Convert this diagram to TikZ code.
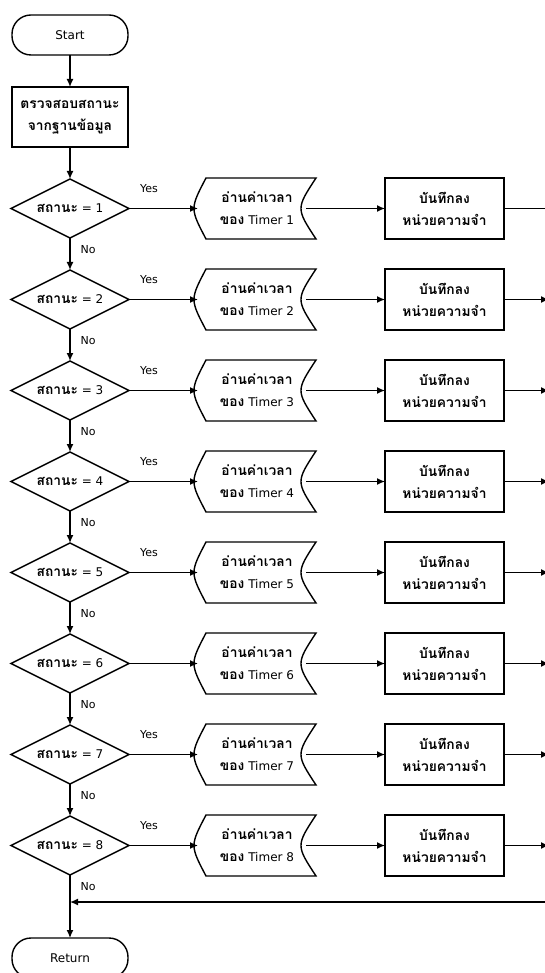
\documentclass[tikz,border=0pt]{standalone}
\usepackage{fontspec}
\setmainfont{DejaVu Sans}
\newfontfamily\thaifont[Script=Thai,Scale=1.15]{Loma}
\newcommand\thtxt[1]{{\thaifont\bfseries #1}}
\usepackage{tikz}
\usetikzlibrary{arrows.meta,positioning,shapes.geometric,calc}

\begin{document}
\begin{tikzpicture}[x=1pt, y={(0,-1pt)}, node distance=32pt and 69pt, every node/.style={outer sep=0pt, font=\fontsize{12}{22}\selectfont}, line width=1.4pt, term/.style={draw, rounded corners=19pt, minimum width=116pt, minimum height=40pt}, procbox/.style={draw, align=center, minimum width=116pt, minimum height=60pt}, decision/.style={draw, diamond, aspect=2, inner sep=0pt, minimum width=118pt, minimum height=59pt}, store/.style={align=center, minimum width=118pt, minimum height=61pt}, membox/.style={draw, align=center, minimum width=119pt, minimum height=61pt}, lbl/.style={font=\fontsize{11}{12}\selectfont}, arr/.style={-{Latex[length=8pt,width=7pt]}}]
\useasboundingbox (0,0) rectangle (544,973);
\node[term] (start) at (70,35) {Start};
\node[procbox, below=of start, alias=d0] (check) {\thtxt{ตรวจสอบสถานะ}\\\thtxt{จากฐานข้อมูล}};
\draw[arr] (start)--(check);
\foreach \i in {1,...,8}{
  \pgfmathtruncatemacro\prev{\i-1}
  \node[decision, below=of d\prev] (d\i) {\thtxt{สถานะ} = \i};
  \node[store, right=of d\i] (rd\i) {\thtxt{อ่านค่าเวลา}\\\thtxt{ของ} Timer \i};
  \node[membox, right=of rd\i] (mem\i) {\thtxt{บันทึกลง}\\\thtxt{หน่วยความจำ}};
  \draw ([xshift=8pt]rd\i.north west) -- (rd\i.north east) .. controls ([xshift=-20pt]rd\i.east) .. (rd\i.south east) -- ([xshift=8pt]rd\i.south west) .. controls ([xshift=-8pt]rd\i.west) .. cycle;
  \draw[arr] (d\prev)--(d\i);
  \draw[arr] (d\i)--(rd\i);
  \draw[arr] ([xshift=-10pt]rd\i.east)--(mem\i);
  \ifnum\i=6\else
    \node[lbl] (yes\i) at ($(d\i.east)+(20,-20)$) {Yes};
  \fi
  \node[lbl] (no\i) at ($(d\i.south)+(18,12)$) {No};
}
% rows 2-8 run on past the right edge
\coordinate (out1) at ($(mem1.east)+(41,0)$);
\draw (mem1)--(out1);
\foreach \i in {2,...,8}{
  \coordinate (out\i) at ($(mem\i.east)+(45,0)$);
  \draw[arr] (mem\i)--(out\i);
}
\node[term, below=63pt of d8] (ret) {Return};
\coordinate (join) at (d8.south |- 0,902);
\coordinate (back) at (545,902);
\draw[arr] (d8)--(ret);
\draw[arr] (back)--(join);
\end{tikzpicture}
\end{document}
